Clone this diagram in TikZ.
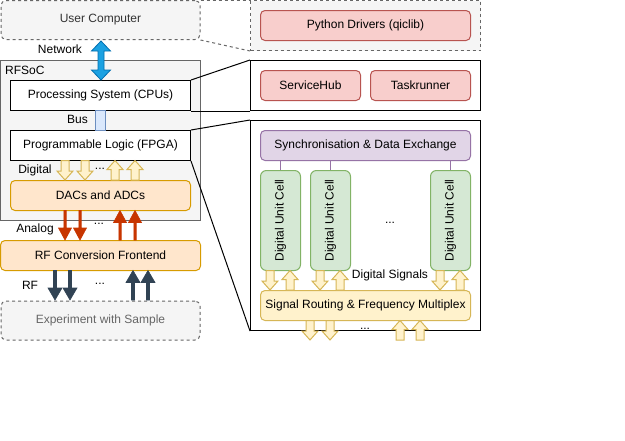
\documentclass[tikz,border=0pt]{standalone}
\usepackage{fontspec}
\setmainfont{Liberation Sans}
\definecolor{gfill}{HTML}{F5F5F5}
\definecolor{gline}{HTML}{666666}
\definecolor{gtext}{HTML}{333333}
\definecolor{rfill}{HTML}{F8CECC}
\definecolor{rline}{HTML}{B85450}
\definecolor{ofill}{HTML}{FFE6CC}
\definecolor{oline}{HTML}{D79B00}
\definecolor{yfill}{HTML}{FFF2CC}
\definecolor{yline}{HTML}{D6B656}
\definecolor{pfill}{HTML}{E1D5E7}
\definecolor{pline}{HTML}{9673A6}
\definecolor{cfill}{HTML}{D5E8D4}
\definecolor{cline}{HTML}{82B366}
\definecolor{bfill}{HTML}{DAE8FC}
\definecolor{bline}{HTML}{6C8EBF}
\definecolor{afill}{HTML}{1BA1E2}
\definecolor{aline}{HTML}{006EAF}
\definecolor{redar}{HTML}{C73500}
\definecolor{darkar}{HTML}{314354}
\newcommand{\farrow}[7]{%
  \pgfmathsetmacro{\fasgn}{sign(#4-#3)}%
  \pgfmathsetmacro{\fayb}{#4-\fasgn*#7}%
  \draw[#1] (#2-#5,#3) -- (#2-#5,\fayb) -- (#2-#6,\fayb) -- (#2,#4) -- (#2+#6,\fayb) -- (#2+#5,\fayb) -- (#2+#5,#3) -- cycle;}
\tikzset{
  txt/.style={font=\fontsize{12pt}{14pt}\selectfont, text=black, inner sep=0pt},
  boxbase/.style={txt, draw, line width=1pt, inner sep=0pt},
  graybox/.style={boxbase, fill=gfill, draw=gline, text=gtext},
  dashbox/.style={graybox, dash pattern=on 3pt off 3pt, rounded corners=5pt},
  plainbox/.style={boxbase, fill=white, draw=black},
  redbox/.style={boxbase, fill=rfill, draw=rline, rounded corners=4.5pt},
  orangebox/.style={boxbase, fill=ofill, draw=oline, rounded corners=4.5pt},
  yellowbox/.style={boxbase, fill=yfill, draw=yline, rounded corners=4.5pt},
  purplebox/.style={boxbase, fill=pfill, draw=pline, rounded corners=4.5pt},
  cellbox/.style={boxbase, fill=cfill, draw=cline, rounded corners=6pt},
  busbox/.style={boxbase, fill=bfill, draw=bline},
  hollowar/.style={fill=yfill, draw=yline, line width=1pt, line join=miter},
  redarr/.style={fill=redar, draw=redar, line width=0.6pt},
  darkarr/.style={fill=darkar, draw=darkar, line width=0.6pt},
  link/.style={draw=black, line width=1pt},
  dashlink/.style={draw=gline, line width=1pt, dash pattern=on 3pt off 3pt},
}
\begin{document}
\begin{tikzpicture}[x=1pt, y=-1pt]
\useasboundingbox (0,0) rectangle (625,440);
% left column
\node[dashbox, minimum width=199pt, minimum height=39pt] (uc) at (100.5,20) {User Computer};
\node[graybox, minimum width=200pt, minimum height=160pt] (rfsoc) at (100.5,140.5) {};
\node[txt, anchor=west] (rfsoclbl) at (5,70) {RFSoC};
\node[plainbox, minimum width=180pt, minimum height=30pt] (ps) at (100.5,95.5) {Processing System (CPUs)};
\node[plainbox, minimum width=180pt, minimum height=30pt] (pl) at (100.5,145.5) {Programmable Logic (FPGA)};
\node[busbox, minimum width=10pt, minimum height=20pt] (bus) at (100.5,120.5) {};
\node[txt] (buslbl) at (77.5,119.5) {Bus};
\node[orangebox, minimum width=180pt, minimum height=30pt] (dac) at (100.5,195.5) {DACs and ADCs};
\node[orangebox, minimum width=200pt, minimum height=30pt] (rffe) at (100.5,255.5) {RF Conversion Frontend};
\node[dashbox, minimum width=199pt, minimum height=39pt, text=gline] (exp) at (100.5,320.5) {Experiment with Sample};
% right column
\node[graybox, dash pattern=on 3pt off 3pt, minimum width=230pt, minimum height=50pt] (pyc) at (365.5,25.5) {};
\node[redbox, minimum width=210pt, minimum height=30pt] (py) at (365.5,25.5) {Python Drivers (qiclib)};
\node[plainbox, minimum width=230pt, minimum height=50pt] (psc) at (365.5,85.5) {};
\node[redbox, minimum width=100pt, minimum height=30pt] (sh) at (310.5,85.5) {ServiceHub};
\node[redbox, minimum width=100pt, minimum height=30pt] (tr) at (420.5,85.5) {Taskrunner};
\node[plainbox, minimum width=230pt, minimum height=210pt] (plc) at (365.5,225.5) {};
\node[purplebox, minimum width=210pt, minimum height=30pt] (sync) at (365.5,145.5) {Synchronisation \& Data Exchange};
\node[cellbox, minimum width=40pt, minimum height=100pt] (cell1) at (280.5,220.5) {};
\node[cellbox, minimum width=40pt, minimum height=100pt] (cell2) at (330.5,220.5) {};
\node[cellbox, minimum width=40pt, minimum height=100pt] (cell3) at (450.5,220.5) {};
\node[txt, rotate=90] (cell1lbl) at (cell1) {Digital Unit Cell};
\node[txt, rotate=90] (cell2lbl) at (cell2) {Digital Unit Cell};
\node[txt, rotate=90] (cell3lbl) at (cell3) {Digital Unit Cell};
\node[txt] (celldots) at (390,223) {...};
\node[yellowbox, minimum width=210pt, minimum height=30pt] (srf) at (365.5,305.5) {Signal Routing \& Frequency Multiplex};
\node[txt] (dslbl) at (390,275) {Digital Signals};
% sync lines
\foreach \c in {cell1,cell2,cell3}{
  \draw[pline, line width=0.8pt] (\c.north) -- (\c.north |- sync.south);
}
% connectors
\draw[dashlink] (uc.north east) -- (pyc.north west);
\draw[dashlink] (uc.south east) -- (pyc.south west);
\draw[link] (ps.north east) -- (psc.north west);
\draw[link] (ps.south east) -- (psc.south west);
\draw[link] (pl.north east) -- (plc.north west);
\draw[link] (pl.south east) -- (plc.south west);
% network double arrow
\node[txt] (netlbl) at (60,49) {Network};
\draw[fill=afill, draw=aline, line width=0.8pt, line join=miter]
  (101,41) -- (110.5,51) -- (104,51) -- (104,70) -- (110.5,70) -- (101,80) -- (91.5,70) -- (98,70) -- (98,51) -- (91.5,51) -- cycle;
% digital arrows
\node[txt] (diglbl) at (35,170) {Digital};
\node[txt] (digdots) at (100,169) {...};
\farrow{hollowar}{65}{160.5}{180}{4}{8}{9}
\farrow{hollowar}{85}{160.5}{180}{4}{8}{9}
\farrow{hollowar}{115}{180}{160.5}{4}{8}{9}
\farrow{hollowar}{135}{180}{160.5}{4}{8}{9}
% analog arrows
\node[txt] (anlbl) at (35,229.5) {Analog};
\node[txt] (andots) at (99,224) {...};
\farrow{redarr}{65}{210.5}{240}{1.2}{6.5}{12}
\farrow{redarr}{80}{210.5}{240}{1.2}{6.5}{12}
\farrow{redarr}{120}{240}{210.5}{1.2}{6.5}{12}
\farrow{redarr}{135}{240}{210.5}{1.2}{6.5}{12}
% RF arrows
\node[txt] (rflbl) at (30,285) {RF};
\node[txt] (rfdots) at (100,284) {...};
\farrow{darkarr}{55}{270.5}{300}{1.5}{7}{12}
\farrow{darkarr}{70}{270.5}{300}{1.5}{7}{12}
\farrow{darkarr}{133}{300}{270.5}{1.5}{7}{12}
\farrow{darkarr}{148}{300}{270.5}{1.5}{7}{12}
% cell arrows
\farrow{hollowar}{270}{270.5}{290}{4}{8}{9}
\farrow{hollowar}{290}{290}{270.5}{4}{8}{9}
\farrow{hollowar}{320}{270.5}{290}{4}{8}{9}
\farrow{hollowar}{340}{290}{270.5}{4}{8}{9}
\farrow{hollowar}{440}{270.5}{290}{4}{8}{9}
\farrow{hollowar}{460}{290}{270.5}{4}{8}{9}
% bottom arrows
\node[txt] (botdots) at (365,329) {...};
\farrow{hollowar}{310}{320.5}{340}{4}{8}{9}
\farrow{hollowar}{330}{320.5}{340}{4}{8}{9}
\farrow{hollowar}{400}{340}{320.5}{4}{8}{9}
\farrow{hollowar}{420}{340}{320.5}{4}{8}{9}
\end{tikzpicture}
\end{document}
